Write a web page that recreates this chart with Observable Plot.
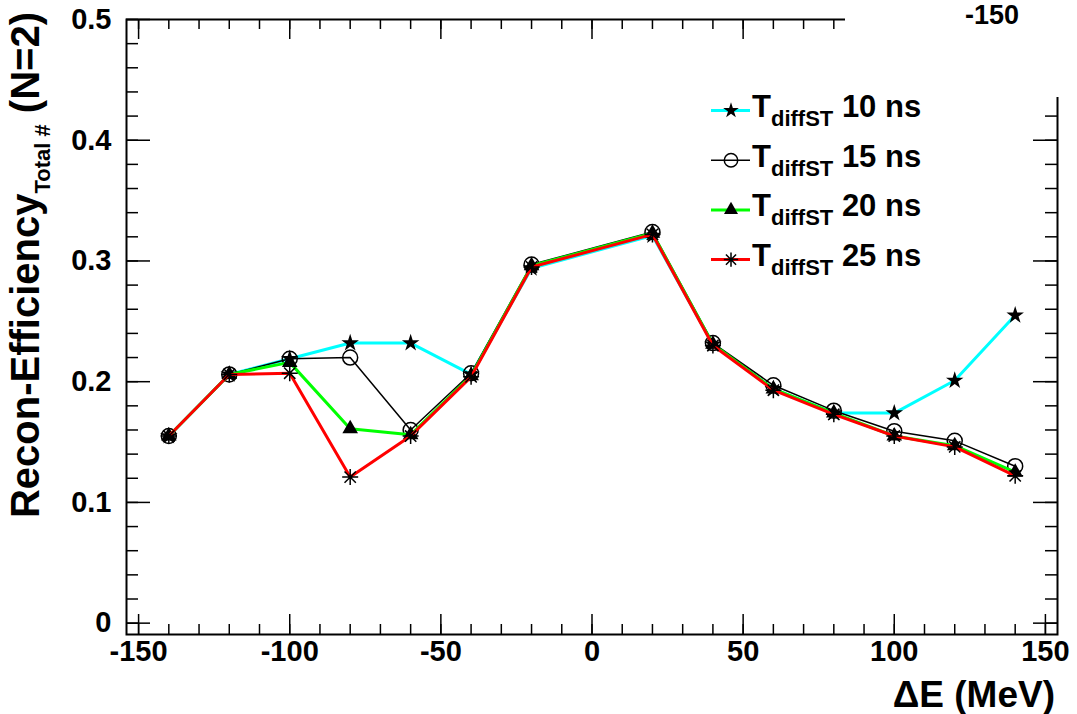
<!DOCTYPE html>
<html>
<head>
<meta charset="utf-8">
<script src="https://cdn.jsdelivr.net/npm/d3@7"></script>
<script src="https://cdn.jsdelivr.net/npm/@observablehq/plot@0.6"></script>
<style>
  html, body { margin: 0; padding: 0; background: #fff; }
  #chart { width: 1077px; height: 714px; position: relative; }
</style>
</head>
<body>
<div id="chart"></div>
<script>
// ---- data ----
const deltaE = [-140, -120, -100, -80, -60, -40, -20, 20, 40, 60, 80, 100, 120, 140];
const eff10 = [0.155, 0.206, 0.219, 0.232, 0.232, 0.206, 0.294, 0.321, 0.231, 0.194, 0.174, 0.174, 0.201, 0.255];
const eff15 = [0.155, 0.206, 0.219, 0.220, 0.160, 0.207, 0.297, 0.324, 0.232, 0.197, 0.176, 0.159, 0.151, 0.130];
const eff20 = [0.155, 0.206, 0.216, 0.161, 0.156, 0.205, 0.296, 0.323, 0.231, 0.194, 0.174, 0.155, 0.147, 0.125];
const eff25 = [0.155, 0.206, 0.207, 0.121, 0.155, 0.204, 0.295, 0.322, 0.230, 0.193, 0.173, 0.155, 0.146, 0.122];
const seriesNames = ["10 ns", "15 ns", "20 ns", "25 ns"];
const seriesColors = ["#00ffff", "#000000", "#00ff00", "#ff0000"];
const xMajor = [-150, -100, -50, 0, 50, 100, 150];
const xMinor = d3.range(-150, 151, 10);
const yMajor = [0, 0.1, 0.2, 0.3, 0.4, 0.5];
const yMinor = d3.range(0, 0.5001, 0.02);

// ---- layout ----
const W = 1077, H = 714;
const mL = 126, mR = 20, mT = 19, mB = 80;
const pw = W - mL - mR, ph = H - mT - mB;

const asterisk = {
  draw(ctx, size) {
    const r = Math.sqrt(size / Math.PI);
    for (const a of [0, 45, 90, 135]) {
      const t = a * Math.PI / 180, dx = r * Math.cos(t), dy = r * Math.sin(t);
      ctx.moveTo(-dx, -dy); ctx.lineTo(dx, dy);
    }
  }
};

const allSeries = [eff10, eff15, eff20, eff25];
const tables = allSeries.map((vals, i) => deltaE.map((x, j) => ({x, y: vals[j], s: seriesNames[i]})));
const markerSpecs = [
  {symbol: "star", r: 5.5, fill: "black", stroke: "none"},
  {symbol: "circle", r: 7.5, fill: "none", stroke: "black", strokeWidth: 1.5},
  {symbol: "triangle", r: 5.8, fill: "black", stroke: "none"},
  {symbol: asterisk, r: 8, fill: "none", stroke: "black", strokeWidth: 1.5}
];
const lineWidths = [3, 1.5, 3, 3];

const seriesMarks = [];
tables.forEach((t, i) => {
  seriesMarks.push(Plot.line(t, {x: "x", y: "y", stroke: seriesColors[i], strokeWidth: lineWidths[i]}));
  seriesMarks.push(Plot.dot(t, {x: "x", y: "y", ...markerSpecs[i]}));
});

const font = "'Liberation Sans', Arial, sans-serif";
const tickStyle = {stroke: "black", strokeWidth: 1.5};
const chart = Plot.plot({
  width: W, height: H,
  marginLeft: mL, marginRight: mR, marginTop: mT, marginBottom: mB,
  style: {fontFamily: font, fontWeight: "bold", fontSize: "29px", background: "white", color: "black"},
  x: {domain: [-154, 154]},
  y: {domain: [-0.0094, 0.5]},
  marks: [
    // ticks (inward, ROOT style) on all four sides
    Plot.ruleX(xMinor, {x: d => d, insetTop: ph - 10, ...tickStyle}),
    Plot.ruleX(xMajor, {x: d => d, insetTop: ph - 20, ...tickStyle}),
    Plot.ruleX(xMinor, {x: d => d, insetBottom: ph - 10, ...tickStyle}),
    Plot.ruleX(xMajor, {x: d => d, insetBottom: ph - 20, ...tickStyle}),
    Plot.ruleY(yMinor, {y: d => d, insetRight: pw - 12, ...tickStyle}),
    Plot.ruleY(yMajor, {y: d => d, insetRight: pw - 24, ...tickStyle}),
    Plot.ruleY(yMinor, {y: d => d, insetLeft: pw - 12, ...tickStyle}),
    Plot.ruleY(yMajor, {y: d => d, insetLeft: pw - 24, ...tickStyle}),
    Plot.axisX({ticks: xMajor, tickSize: 0, tickPadding: 6, label: null, tickFormat: d => String(d)}),
    Plot.axisY({ticks: yMajor, tickSize: 0, tickPadding: 15, label: null, tickFormat: d => d === 0 ? "0" : d.toFixed(1)}),
    Plot.frame({stroke: "black", strokeWidth: 2}),
    ...seriesMarks
  ]
});
document.getElementById("chart").appendChild(chart);

// ---- decorations: titles, legend ----
const svg = d3.select(chart);

// white patch in the top right corner with stray label
svg.append("rect").attr("x", 845).attr("y", 0).attr("width", W - 845).attr("height", 97).attr("fill", "white");
svg.append("text").attr("x", 992).attr("y", 24).attr("text-anchor", "middle")
  .attr("font-family", font).attr("font-weight", "bold").attr("font-size", 27).text("-150");

// x-axis title
svg.append("text").attr("x", 1055).attr("y", 707).attr("text-anchor", "end")
  .attr("font-family", font).attr("font-weight", "bold").attr("font-size", 37).text("\u0394E (MeV)");

// y-axis title
const yt = svg.append("text").attr("transform", "translate(39,12) rotate(-90)").attr("text-anchor", "end")
  .attr("font-family", font).attr("font-weight", "bold").attr("font-size", 40);
yt.append("tspan").text("Recon-Efficiency");
yt.append("tspan").attr("font-size", 22).attr("dy", 11).text("Total #");
yt.append("tspan").attr("dy", -11).text("\u00a0(N=2)");

// legend
const legend = svg.append("g");
seriesNames.forEach((name, i) => {
  const base = 117 + 49.7 * i;
  const ly = base - 6.5;
  legend.append("line").attr("x1", 711).attr("x2", 750).attr("y1", ly).attr("y2", ly)
    .attr("stroke", seriesColors[i]).attr("stroke-width", lineWidths[i]);
  const sym = [d3.symbolStar, d3.symbolCircle, d3.symbolTriangle, asterisk][i];
  const size = Math.PI * markerSpecs[i].r * markerSpecs[i].r * 0.8;
  legend.append("path").attr("d", d3.symbol(sym, size)()).attr("transform", `translate(731,${ly})`)
    .attr("fill", markerSpecs[i].fill).attr("stroke", markerSpecs[i].stroke)
    .attr("stroke-width", markerSpecs[i].strokeWidth || 0);
  const t = legend.append("text").attr("x", 752).attr("y", base).attr("text-anchor", "start")
    .attr("font-family", font).attr("font-weight", "bold").attr("font-size", 31);
  t.append("tspan").text("T");
  t.append("tspan").attr("font-size", 22).attr("dy", 9).text("diffST");
  t.append("tspan").attr("dy", -9).text("\u00a0" + name);
});
</script>
</body>
</html>
